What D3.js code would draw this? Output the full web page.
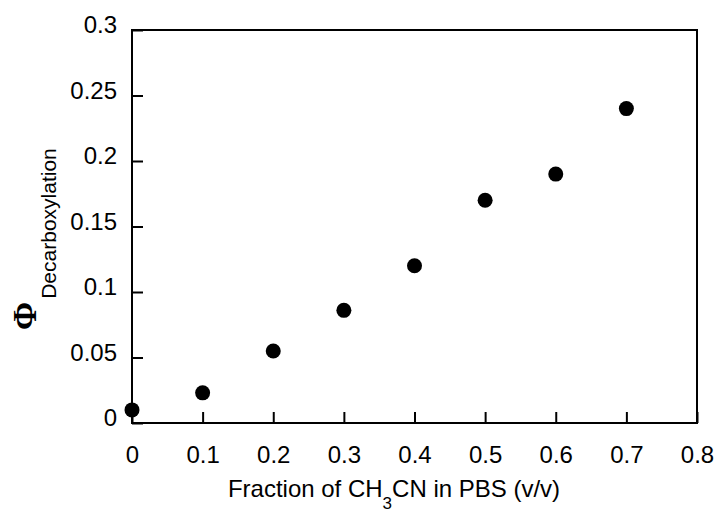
<!DOCTYPE html>
<html>
<head>
<meta charset="utf-8">
<script src="https://cdn.jsdelivr.net/npm/d3@7"></script>
<style>
  body { margin: 0; background: #fff; }
  svg { display: block; font-family: "Liberation Sans", Arial, Helvetica, sans-serif; }
</style>
</head>
<body>
<svg width="716" height="513"></svg>
<script>
// data
const fractions = [0, 0.1, 0.2, 0.3, 0.4, 0.5, 0.6, 0.7];
const quantumYields = [0.01, 0.023, 0.055, 0.086, 0.12, 0.17, 0.19, 0.24];

const xTicks = [0, 0.1, 0.2, 0.3, 0.4, 0.5, 0.6, 0.7, 0.8];
const yTicks = [0, 0.05, 0.1, 0.15, 0.2, 0.25, 0.3];

const svg = d3.select("svg");

const margin = { left: 132, right: 19, top: 30, bottom: 90 };
const width = 716 - margin.left - margin.right;
const height = 513 - margin.top - margin.bottom;

const x = d3.scaleLinear().domain([0, 0.8]).range([0, width]);
const y = d3.scaleLinear().domain([0, 0.3]).range([height, 0]);

const g = svg.append("g")
  .attr("transform", `translate(${margin.left},${margin.top})`);

const fmt = d => String(+d.toFixed(2));

// x axis, ticks point inward
const xAxis = g.append("g")
  .attr("transform", `translate(0,${height})`)
  .call(d3.axisBottom(x).tickValues(xTicks).tickFormat(fmt)
    .tickSizeInner(-11).tickSizeOuter(0).tickPadding(23));

// y axis, ticks point inward
const yAxis = g.append("g")
  .call(d3.axisLeft(y).tickValues(yTicks).tickFormat(fmt)
    .tickSizeInner(-11).tickSizeOuter(0).tickPadding(15));

[xAxis, yAxis].forEach(a => {
  a.select(".domain").remove();
  a.selectAll(".tick line").attr("stroke", "#000").attr("stroke-width", 2);
  a.selectAll(".tick text")
    .attr("fill", "#000")
    .style("font-size", "24px");
});
yAxis.selectAll(".tick text").attr("y", -5);

// frame
g.append("rect")
  .attr("width", width)
  .attr("height", height)
  .attr("fill", "none")
  .attr("stroke", "#000")
  .attr("stroke-width", 2);

// points
g.selectAll("circle.pt")
  .data(fractions.map((f, i) => [f, quantumYields[i]]))
  .enter()
  .append("circle")
  .attr("class", "pt")
  .attr("cx", d => x(d[0]))
  .attr("cy", d => y(d[1]))
  .attr("r", 7.5)
  .attr("fill", "#000");

// x title with subscript 3
const xt = svg.append("text")
  .attr("x", 394)
  .attr("y", 497)
  .attr("text-anchor", "middle")
  .style("font-size", "24px")
  .attr("fill", "#000");
xt.append("tspan").text("Fraction of CH");
xt.append("tspan").text("3").attr("dy", 12).style("font-size", "17px");
xt.append("tspan").text("CN in PBS (v/v)").attr("dy", -12);

// y title: Phi with subscript
const yt = svg.append("text")
  .attr("transform", "translate(36,330) rotate(-90)")
  .attr("fill", "#000");
yt.append("tspan").text("Φ")
  .style("font-size", "34px").style("font-weight", "bold")
  .style("font-family", "'Liberation Serif', 'Times New Roman', serif");
yt.append("tspan").text("Decarboxylation").attr("dx", 3).attr("dy", 20).style("font-size", "21px");
</script>
</body>
</html>
